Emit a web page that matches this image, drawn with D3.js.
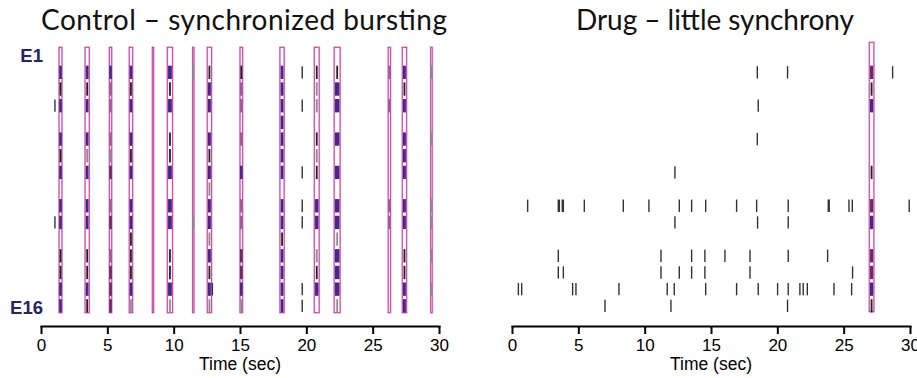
<!DOCTYPE html>
<html>
<head>
<meta charset="utf-8">
<script src="https://cdn.jsdelivr.net/npm/d3@7"></script>
<style>
  body { margin: 0; background: #fff; }
  svg { display: block; }
  .title { font-family: Lato, "Liberation Sans", sans-serif; font-size: 28px; fill: #111; }
  .axis text { font-family: "Liberation Sans", Arial, sans-serif; font-size: 17px; fill: #000; }
  .axis path, .axis line { stroke: #000; stroke-width: 2px; }
  .xlabel { font-family: "Liberation Sans", Arial, sans-serif; font-size: 17.5px; fill: #000; }
  .elabel { font-family: "Liberation Sans", Arial, sans-serif; font-size: 18.5px; font-weight: bold; fill: #262463; }
</style>
</head>
<body>
<svg id="chart" width="917" height="378"></svg>
<script>
// electrodes, top to bottom
const electrodes = d3.range(1, 17).map(d => "E" + d);
const timeTicks = [0, 5, 10, 15, 20, 25, 30];

// control: burst windows (sec) and what each electrode does inside them
// p = dense burst, d = dark burst, m = weak burst, k = few spikes, g = faint spike, . = silent
const ctrlBurstStart = [1.36, 3.32, 5.15, 6.65, 8.39, 9.52, 11.43, 12.53, 15.0, 18.01, 20.6, 22.1, 26.17, 27.23, 29.37];
const ctrlBurstEnd   = [1.58, 3.64, 5.33, 6.91, 8.49, 9.92, 11.53, 12.86, 15.2, 18.33, 20.97, 22.55, 26.35, 27.56, 29.49];
const ctrlBurstRows = [
  ".pkp.pkp.pp.kkpp",
  ".pkp.pgp.pp.kkpk",
  ".pmm.mgd.md.mddd",
  ".pkp.pkp.ppkkkpg",
  "................",
  ".pkp.kkp.pp.kkpg",
  ".g........g.....",
  ".kpp.pkpgppgpkpg",
  ".kmm.m.p.mm.ddpg",
  ".ppppppp.ppkpppp",
  ".kgg.kgk.pp.gkp.",
  ".kpp.p.p.ppgpppg",
  ".m.m.....mm.....",
  ".pkp.ppp.pp.kkpp",
  ".g...g...gg.g.g."
];
// control: lone spikes outside bursts, per electrode
const ctrlSpikes = [
  [], [19.69], [], [1.05, 19.69], [], [], [], [19.69],
  [], [19.69], [1.05, 19.69], [], [], [], [12.92, 19.69], [19.69]
];

// drug: one synchronous event
const drugBurstStart = [26.93];
const drugBurstEnd   = [27.28];
const drugBurstRows  = [".dkp...k.dp.ddpk"];
// drug: scattered spikes, per electrode
const drugSpikes = [
  [],
  [18.49, 20.77, 28.69],
  [],
  [18.56],
  [],
  [18.49],
  [],
  [12.28],
  [],
  [1.18, 3.49, 3.57, 3.79, 3.87, 5.45, 8.39, 10.32, 12.61, 13.54, 14.6, 16.93, 18.44, 20.82, 23.84, 23.91, 25.4, 25.65, 29.94],
  [12.28, 18.51, 20.82],
  [],
  [3.49, 11.23, 13.54, 14.54, 16.05, 17.94, 20.82, 23.79],
  [3.49, 3.87, 11.23, 12.61, 13.54, 14.54, 17.94, 25.67],
  [0.48, 0.73, 4.57, 4.82, 8.06, 11.7, 12.23, 14.6, 16.93, 18.56, 20.02, 20.82, 21.7, 21.95, 22.26, 24.27, 25.6],
  [7.01, 11.98, 20.77]
];

const markColor = { p: "#4a2688", d: "#6a2c68", m: "#a4589e", k: "#222", g: "#8c8c8c" };

const svg = d3.select("#chart");

const y = d3.scaleBand()
  .domain(d3.range(16))
  .range([49, 312.5])
  .paddingInner(0.2);

const xCtrl = d3.scaleLinear().domain([0, 30]).range([41, 439]);
const xDrug = d3.scaleLinear().domain([0, 30]).range([512, 910]);

function drawPanel(x, starts, ends, rows, spikes, boxTop, boxBottom, title, titleWidth) {
  const g = svg.append("g");

  g.append("text")
    .attr("class", "title")
    .attr("x", (x.range()[0] + x.range()[1]) / 2 + 4)
    .attr("y", 30)
    .attr("text-anchor", "middle")
    .attr("textLength", titleWidth)
    .text(title);

  // faint pink halo of the burst boxes
  g.selectAll(".halo")
    .data(starts)
    .enter()
    .append("rect")
    .attr("x", (d) => x(d))
    .attr("y", boxTop)
    .attr("width", (d, i) => Math.max(x(ends[i]) - x(d), 0.5))
    .attr("height", boxBottom - boxTop)
    .attr("fill", "none")
    .attr("stroke", "#efcdea")
    .attr("stroke-width", 2);

  // box outline
  g.selectAll(".box")
    .data(starts)
    .enter()
    .append("rect")
    .attr("x", (d) => x(d))
    .attr("y", boxTop)
    .attr("width", (d, i) => Math.max(x(ends[i]) - x(d), 0.5))
    .attr("height", boxBottom - boxTop)
    .attr("fill", "none")
    .attr("stroke", "#c2439f")
    .attr("stroke-width", 1);

  // marks inside bursts
  starts.forEach((s, i) => {
    const x0 = x(s), x1 = x(ends[i]);
    rows[i].split("").forEach((c, r) => {
      if (c === ".") return;
      if (c === "k" || c === "g") {
        g.append("line")
          .attr("x1", (x0 + x1) / 2)
          .attr("x2", (x0 + x1) / 2)
          .attr("y1", y(r))
          .attr("y2", y(r) + y.bandwidth())
          .attr("stroke", markColor[c])
          .attr("stroke-width", 1.8);
      } else {
        const w = Math.max(x1 - x0 - 1.5, 2.6);
        g.append("rect")
          .attr("x", (x0 + x1) / 2 - w / 2)
          .attr("y", y(r))
          .attr("width", w)
          .attr("height", y.bandwidth())
          .attr("fill", markColor[c]);
      }
    });
  });

  // lone spikes
  spikes.forEach((times, r) => {
    g.selectAll(null)
      .data(times)
      .enter()
      .append("line")
      .attr("x1", (d) => x(d))
      .attr("x2", (d) => x(d))
      .attr("y1", y(r) + 0.5)
      .attr("y2", y(r) + y.bandwidth() - 0.5)
      .attr("stroke", "#333")
      .attr("stroke-width", 1.4);
  });

  const axis = g.append("g")
    .attr("class", "axis")
    .attr("transform", "translate(0,326)")
    .call(d3.axisBottom(x).tickValues(timeTicks).tickSize(8).tickSizeOuter(0).tickPadding(5));
  axis.select(".domain").attr("stroke-linecap", "square");

  g.append("text")
    .attr("class", "xlabel")
    .attr("x", (x.range()[0] + x.range()[1]) / 2)
    .attr("y", 370)
    .attr("text-anchor", "middle")
    .text("Time (sec)");
}

drawPanel(xCtrl, ctrlBurstStart, ctrlBurstEnd, ctrlBurstRows, ctrlSpikes, 47.3, 312.7,
  "Control \u2013 synchronized bursting", 406);
drawPanel(xDrug, drugBurstStart, drugBurstEnd, drugBurstRows, drugSpikes, 42.3, 311.7,
  "Drug \u2013 little synchrony", 278);

// first and last electrode names
svg.append("text")
  .attr("class", "elabel")
  .attr("x", 43)
  .attr("y", y(0) + y.bandwidth() / 2)
  .attr("dy", "0.36em")
  .attr("text-anchor", "end")
  .text(electrodes[0]);
svg.append("text")
  .attr("class", "elabel")
  .attr("x", 43)
  .attr("y", y(15) + y.bandwidth() / 2 + 1.5)
  .attr("dy", "0.36em")
  .attr("text-anchor", "end")
  .text(electrodes[15]);
</script>
</body>
</html>
